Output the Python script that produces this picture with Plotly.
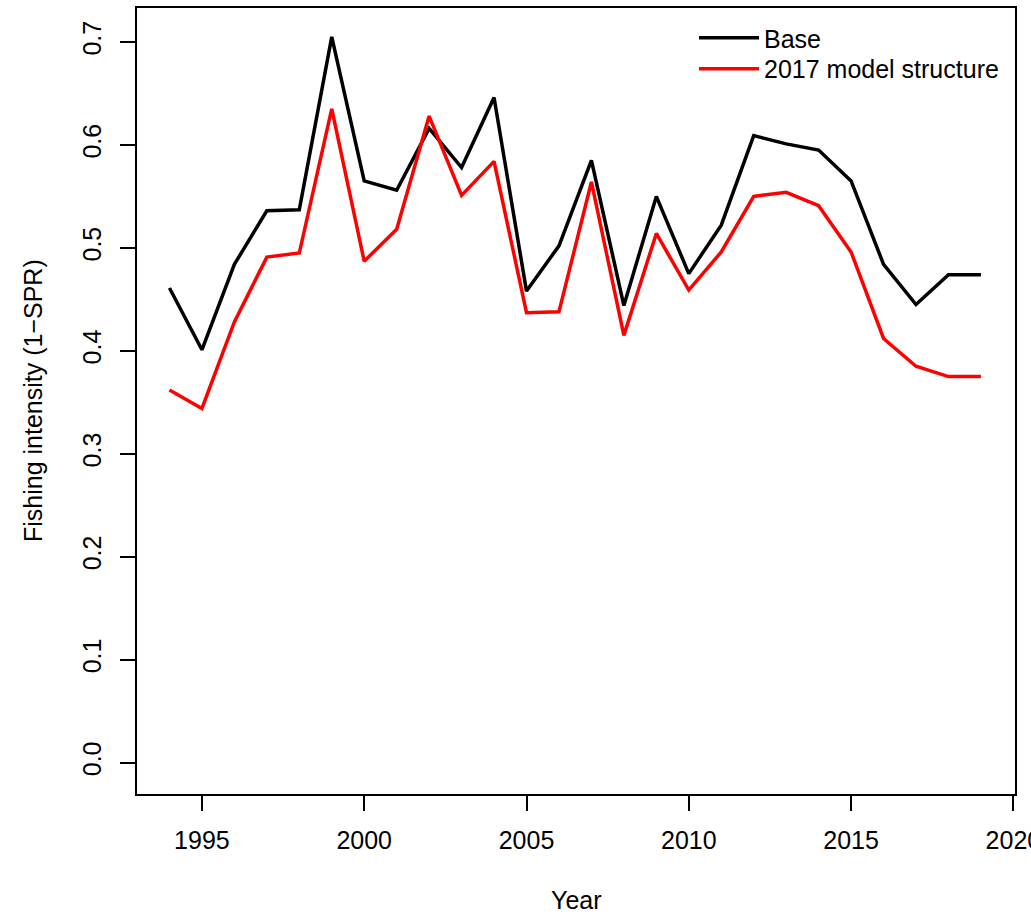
import plotly.graph_objects as go

years = list(range(1994, 2020))
base = [0.461, 0.401, 0.484, 0.536, 0.537, 0.705, 0.565, 0.556, 0.616, 0.578,
        0.646, 0.458, 0.502, 0.585, 0.444, 0.550, 0.475, 0.522, 0.609, 0.601,
        0.595, 0.565, 0.484, 0.445, 0.474, 0.474]
model2017 = [0.362, 0.344, 0.428, 0.491, 0.495, 0.635, 0.487, 0.518, 0.628, 0.551,
             0.584, 0.437, 0.438, 0.564, 0.415, 0.514, 0.459, 0.496, 0.550, 0.554,
             0.541, 0.496, 0.412, 0.385, 0.375, 0.375]
series_names = ["Base", "2017 model structure"]
series_colors = ["#000000", "#FF0000"]
x_ticks = [1995, 2000, 2005, 2010, 2015, 2020]
y_ticks = [0.0, 0.1, 0.2, 0.3, 0.4, 0.5, 0.6, 0.7]

FONT = "Liberation Sans, Arial, sans-serif"

fig = go.Figure()
for name, vals, col, lg in zip(series_names, [base, model2017], series_colors, ["legend", "legend2"]):
    fig.add_trace(go.Scatter(x=years, y=vals, mode="lines", name=name, legend=lg,
                             line=dict(color=col, width=3.5)))

axis_common = dict(showgrid=False, zeroline=False, showline=True, linecolor="black",
                   linewidth=2, mirror=True, ticks="outside", ticklen=15, tickwidth=2,
                   tickcolor="black", tickfont=dict(family=FONT, size=25, color="black"))

fig.update_xaxes(range=[1993, 2020.05], tickvals=x_ticks, ticktext=[str(t) for t in x_ticks],
                 ticklabelstandoff=8, ticklabeloverflow="allow", **axis_common)
fig.update_yaxes(range=[-0.0305, 0.733], tickvals=y_ticks, ticktext=[f"{v:.1f}" for v in y_ticks],
                 tickangle=-90, ticklabelstandoff=9, **axis_common)

fig.add_annotation(text="Year", xref="paper", yref="paper", x=0.5, y=0,
                   xanchor="center", yanchor="middle", yshift=-106, showarrow=False,
                   font=dict(family=FONT, size=25, color="black"))
fig.add_annotation(text="Fishing intensity (1\u2212SPR)", xref="paper", yref="paper", x=0, y=0.5,
                   xanchor="center", yanchor="middle", xshift=-104, textangle=-90, showarrow=False,
                   font=dict(family=FONT, size=25, color="black"))

legend_common = dict(xanchor="left", yanchor="middle", bgcolor="rgba(0,0,0,0)",
                     font=dict(family=FONT, size=25, color="black"), itemwidth=60)

fig.update_layout(
    width=1031, height=914,
    margin=dict(l=137, r=16, t=8, b=120, autoexpand=False),
    plot_bgcolor="white", paper_bgcolor="white",
    showlegend=True,
    legend=dict(x=0.6344, y=0.9618, **legend_common),
    legend2=dict(x=0.6344, y=0.9224, **legend_common),
)

fig.write_html("out.html", config={"displayModeBar": False},
               post_script="document.body.style.margin='0px';document.body.style.overflow='hidden';")
